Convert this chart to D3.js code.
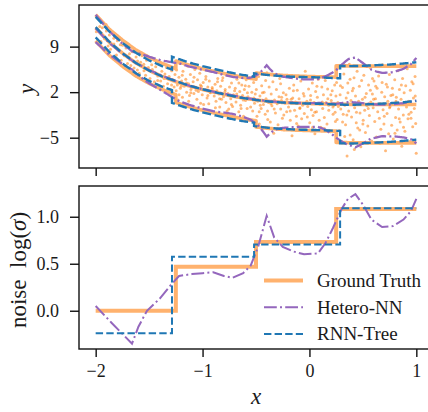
<!DOCTYPE html>
<html><head><meta charset="utf-8">
<script src="https://cdn.jsdelivr.net/npm/d3@7/dist/d3.min.js"></script>
<style>body{margin:0;background:#fff}svg{display:block}</style>
</head><body><svg id="c" width="428" height="412"></svg>
<script>
// ---------------- data ----------------
const meanX = [-2, -1.875, -1.75, -1.625, -1.5, -1.375, -1.25, -1.125, -1, -0.875, -0.75, -0.625, -0.5, -0.375, -0.25, -0.125, 0, 0.125, 0.25, 0.375, 0.5, 0.625, 0.75, 0.875, 1];
const gtMean     = [11.9, 9.7, 8.0, 6.5, 5.35, 4.4, 3.6, 2.95, 2.4, 1.95, 1.5, 1.1, 0.8, 0.58, 0.42, 0.32, 0.25, 0.2, 0.16, 0.13, 0.11, 0.1, 0.1, 0.1, 0.1];
const rnnMean    = [12.0, 9.8, 8.0, 6.5, 5.3, 4.4, 3.7, 3.0, 2.45, 1.95, 1.5, 1.1, 0.8, 0.55, 0.4, 0.3, 0.25, 0.2, 0.1, 0.05, 0.1, 0.2, 0.3, 0.45, 0.65];
const heteroMean = [11.8, 9.6, 7.9, 6.5, 5.4, 4.5, 3.7, 3.0, 2.45, 2.0, 1.6, 1.2, 0.85, 0.6, 0.45, 0.35, 0.3, 0.35, 0.2, 0.5, 0.3, 0.1, 0.1, 0.3, 0.7];

const gtSteps = [-1.25, -0.5, 0.25];
const gtLogSigma = [0, 0.468, 0.731, 1.082];
const rnnSteps = [-1.286, -0.518, 0.287];
const rnnLogSigma = [-0.24, 0.574, 0.706, 1.09];

const heteroX        = [-2.0, -1.85, -1.66, -1.6, -1.52, -1.4, -1.3, -1.22, -1.1, -1.0, -0.9, -0.8, -0.72, -0.62, -0.55, -0.48, -0.4, -0.33, -0.25, -0.15, -0.05, 0.08, 0.15, 0.22, 0.3, 0.36, 0.43, 0.5, 0.58, 0.68, 0.78, 0.88, 0.95, 1.0];
const heteroLogSigma = [0.05, -0.13, -0.35, -0.17, 0.0, 0.13, 0.27, 0.37, 0.39, 0.4, 0.41, 0.37, 0.35, 0.4, 0.48, 0.68, 1.01, 0.78, 0.68, 0.63, 0.6, 0.61, 0.72, 0.88, 1.08, 1.19, 1.24, 1.13, 0.97, 0.89, 0.9, 0.97, 1.06, 1.19];

const scatterPts = [
[-1.994,11.3],[-1.987,13.4],[-1.962,12.1],[-1.951,9.8],[-1.938,11.9],[-1.917,10.2],[-1.903,12.4],[-1.884,9.1],[-1.872,10.8],[-1.861,8.6],[-1.843,11.1],[-1.829,9.4],[-1.806,7.7],[-1.797,9.9],[-1.774,8.3],[-1.762,6.9],[-1.748,9.2],[-1.731,7.6],[-1.716,8.8],[-1.702,6.4],[-1.684,7.9],[-1.671,6.1],[-1.659,8.2],[-1.641,5.7],[-1.622,7.4],[-1.608,6.8],[-1.593,4.9],[-1.579,6.6],[-1.566,7.6],[-1.548,5.3],[-1.533,4.6],[-1.524,6.9],[-1.507,5.8],[-1.492,4.1],[-1.476,6.2],[-1.463,5.0],[-1.451,3.6],[-1.438,5.9],[-1.419,4.5],[-1.404,6.3],[-1.392,3.7],[-1.381,5.2],[-1.366,2.9],[-1.352,4.8],[-1.338,5.8],[-1.327,3.3],[-1.313,4.4],[-1.301,2.4],[-1.289,5.3],[-1.277,3.9],[-1.266,2.8],[-1.258,4.7],
[-1.247,2.2],[-1.243,5.4],[-1.236,3.1],[-1.229,0.8],[-1.221,4.3],[-1.214,6.4],[-1.208,2.6],[-1.196,3.7],[-1.188,1.2],[-1.183,5.2],[-1.171,2.9],[-1.166,0.1],[-1.157,4.0],[-1.149,2.0],[-1.138,6.0],[-1.131,3.3],[-1.122,1.5],[-1.114,4.7],[-1.109,2.4],[-1.097,-0.4],[-1.088,3.6],[-1.081,1.8],[-1.072,5.5],[-1.064,2.7],[-1.053,0.9],[-1.047,3.9],[-1.039,2.1],[-1.026,4.9],[-1.018,0.3],[-1.011,2.9],[-1.003,1.6],[-0.994,3.5],[-0.986,-0.7],[-0.977,2.3],[-0.969,4.4],[-0.958,1.1],[-0.951,2.8],[-0.942,0.2],[-0.937,3.7],[-0.926,1.9],[-0.918,5.3],[-0.909,2.5],[-0.897,-1.1],[-0.891,1.4],[-0.883,3.2],[-0.874,0.6],[-0.866,2.2],[-0.858,4.1],[-0.847,1.7],[-0.839,-0.3],[-0.831,2.9],[-0.822,0.9],[-0.816,3.8],[-0.804,1.3],[-0.797,-1.5],[-0.788,2.4],[-0.781,0.4],[-0.772,4.6],[-0.763,1.8],[-0.755,-0.6],[-0.748,2.8],[-0.736,1.0],[-0.729,3.4],[-0.719,-0.2],[-0.711,1.6],[-0.703,-2.1],[-0.694,2.6],[-0.687,0.5],[-0.678,4.0],[-0.669,1.2],[-0.661,-1.0],[-0.652,2.1],[-0.644,0.0],[-0.633,3.1],[-0.626,1.5],[-0.617,-1.7],[-0.609,2.4],[-0.598,0.7],[-0.592,3.9],[-0.583,-0.5],[-0.575,1.3],[-0.566,2.9],[-0.558,-2.3],[-0.547,0.9],[-0.539,2.0],[-0.531,-0.9],[-0.522,3.5],[-0.514,0.3],[-0.507,1.7],[-0.502,-2.5],
[-0.497,2.4],[-0.491,-1.7],[-0.484,0.6],[-0.476,4.4],[-0.469,-2.9],[-0.463,1.4],[-0.452,-0.5],[-0.447,3.0],[-0.438,-3.6],[-0.431,0.1],[-0.424,2.0],[-0.414,-1.4],[-0.406,1.0],[-0.398,5.0],[-0.392,-0.9],[-0.383,0.4],[-0.377,2.8],[-0.366,-2.6],[-0.358,1.7],[-0.351,-0.1],[-0.342,3.6],[-0.334,-4.3],[-0.327,0.8],[-0.318,-1.2],[-0.309,2.4],[-0.302,0.2],[-0.294,-3.0],[-0.285,1.3],[-0.278,4.1],[-0.269,-0.6],[-0.262,0.7],[-0.253,-2.0],[-0.244,1.9],[-0.237,-3.8],[-0.228,0.3],[-0.219,1.6],[-0.213,-1.0],[-0.204,4.6],[-0.196,-0.3],[-0.188,2.6],[-0.179,-2.3],[-0.171,0.9],[-0.163,-4.7],[-0.156,1.1],[-0.147,3.1],[-0.139,-0.8],[-0.131,0.5],[-0.122,-1.7],[-0.114,2.3],[-0.106,-3.2],[-0.097,1.0],[-0.089,-0.4],[-0.081,3.7],[-0.073,-2.1],[-0.064,0.0],[-0.057,1.8],[-0.048,-1.3],[-0.039,5.2],[-0.032,-3.9],[-0.024,0.6],[-0.016,-0.2],[-0.008,2.5],[0.003,-2.7],[0.011,1.5],[0.018,-0.7],[0.027,3.4],[0.034,-1.6],[0.043,0.4],[0.051,-4.4],[0.058,2.1],[0.066,-1.0],[0.074,1.2],[0.083,4.0],[0.091,-2.3],[0.098,0.1],[0.107,-3.4],[0.116,2.8],[0.124,-0.5],[0.131,1.6],[0.139,-1.9],[0.148,3.8],[0.156,0.4],[0.164,-2.9],[0.172,1.0],[0.181,-0.8],[0.188,4.3],[0.196,-4.1],[0.204,0.7],[0.213,2.2],[0.221,-1.4],[0.229,0.0],[0.236,3.1],[0.243,-2.5],[0.248,1.4],
[0.254,3.5],[0.259,-2.2],[0.266,0.4],[0.272,5.7],[0.279,-3.9],[0.287,1.6],[0.293,-0.6],[0.301,-5.6],[0.309,2.7],[0.316,-1.4],[0.322,4.8],[0.331,0.0],[0.338,-3.0],[0.344,1.1],[0.352,-7.8],[0.359,3.4],[0.367,-0.9],[0.373,6.3],[0.381,-4.6],[0.388,0.7],[0.394,-1.8],[0.402,2.2],[0.409,-5.3],[0.417,4.2],[0.423,-0.4],[0.431,1.4],[0.438,-2.7],[0.446,5.2],[0.452,-3.5],[0.459,0.2],[0.467,2.9],[0.473,-1.2],[0.481,-6.4],[0.488,3.8],[0.496,0.9],[0.503,-2.3],[0.509,4.6],[0.517,-0.8],[0.524,-4.2],[0.532,1.8],[0.538,-0.1],[0.546,-3.2],[0.553,3.1],[0.561,-1.6],[0.567,5.8],[0.574,0.5],[0.582,-5.5],[0.589,1.7],[0.596,-0.4],[0.604,3.7],[0.611,-2.5],[0.618,1.0],[0.626,-4.9],[0.633,2.6],[0.639,-1.0],[0.647,4.5],[0.654,-2.0],[0.661,0.2],[0.668,-3.7],[0.676,2.0],[0.683,6.2],[0.689,-0.7],[0.697,-2.9],[0.704,1.3],[0.712,-7.0],[0.719,3.2],[0.726,-1.3],[0.733,0.6],[0.741,-4.4],[0.748,4.7],[0.754,-0.2],[0.762,1.5],[0.769,-3.1],[0.776,2.6],[0.784,-5.2],[0.791,0.3],[0.798,3.9],[0.806,-1.9],[0.813,1.2],[0.821,-3.8],[0.828,5.3],[0.834,-0.6],[0.842,2.4],[0.849,-2.6],[0.857,0.9],[0.864,-6.3],[0.871,4.1],[0.878,-1.5],[0.886,1.9],[0.893,-4.0],[0.901,3.0],[0.908,-0.3],[0.915,5.6],[0.922,-2.1],[0.929,0.6],[0.937,-5.6],[0.944,2.3],[0.951,-1.1],[0.958,3.6],[0.966,-3.3],[0.973,1.1],[0.981,-0.5],[0.988,4.4],[0.994,-2.8],[0.999,-7.4]
];
const extraPts = [
[-1.02,3.1],[-0.73,0.1],[-1.19,4.6],[-0.58,1.9],[-0.91,2.7],[-1.13,0.6],[-0.66,3.4],[-0.84,1.0],[-1.06,2.3],[-0.55,-0.3],[-0.97,4.0],[-0.79,2.1],[-1.22,1.6],[-0.62,0.8],[-0.88,-0.4],[-1.15,3.4],[-0.70,2.2],[-0.95,1.5],[-0.60,3.0],[-1.08,4.3],[-0.77,-0.9],[-0.86,3.6],[-1.20,2.9],[-0.52,1.1],[-0.99,0.1],[-0.68,1.7],[-1.11,1.9],[-0.81,4.2],[-0.64,-0.5],[-0.93,2.0],
[-0.21,0.9],[0.05,-1.1],[-0.44,1.9],[0.17,2.5],[-0.33,-0.6],[0.09,0.3],[-0.12,-2.8],[-0.47,-1.0],[0.22,-0.3],[-0.27,3.3],[0.14,-3.6],[-0.05,1.4],[-0.39,-2.2],[0.01,0.8],[-0.18,-0.9],[0.20,1.6],[-0.30,0.5],[-0.02,-1.8],[-0.41,3.8],[0.12,0.5],[-0.24,-1.5],[0.07,2.9],[-0.36,0.2],[-0.09,-0.5],[0.24,-1.1],[-0.15,2.2],[-0.46,0.0],[0.03,-3.4],[-0.26,1.2],[0.18,0.0],
[0.62,2.9],[0.35,-1.5],[0.91,0.2],[0.47,-3.8],[0.78,1.6],[0.29,3.0],[0.55,-0.5],[0.84,-2.1],[0.41,2.6],[0.70,-1.7],[0.97,3.3],[0.33,-4.8],[0.59,4.1],[0.88,-3.4],[0.44,-1.1],[0.73,2.8],[0.27,-0.2],[0.52,1.2],[0.95,-2.0],[0.66,-5.9],[0.38,4.0],[0.81,0.6],[0.50,-2.9],[0.99,1.4],[0.31,-2.6],[0.60,0.9],[0.86,3.1],[0.42,-6.8],[0.75,-0.4],[0.57,2.3],[0.93,-1.4],[0.46,0.6],[0.68,3.5],[0.36,1.9],[0.80,-4.3],
[-1.83,10.3],[-1.61,5.4],[-1.47,5.5],[-1.90,11.4],[-1.68,7.0],[-1.36,4.1],[-1.55,6.3],[-1.77,9.3],[-1.42,3.8],[-1.29,3.1]
];

const xTicks = [-2, -1, 0, 1];
const yTopTicks = [9, 2, -5];
const yBotTicks = [0.0, 0.5, 1.0];
const legendLabels = ["Ground Truth", "Hetero-NN", "RNN-Tree"];

// ---------------- layout ----------------
const C_GT = "#ffb26e", C_HET = "#9467bd", C_RNN = "#1f77b4";
const FONT = "'Liberation Serif', 'Times New Roman', serif";
const svg = d3.select("#c");
const L = 79, R = 433;
const topP = {t: 5, b: 168}, botP = {t: 186, b: 349};

const x = d3.scaleLinear().domain([-2.156, 1.156]).range([L, R]);
const yT = d3.scaleLinear().domain([-9.66, 15.4]).range([topP.b, topP.t]);
const yB = d3.scaleLinear().domain([-0.407, 1.327]).range([botP.b, botP.t]);

// ---------------- helpers ----------------
const grid = d3.range(-2, 1.00001, 0.01);
function stepBand(meanArr, steps, levels, k) {
  const m = d3.scaleLinear().domain(meanX).range(meanArr);
  const bounds = [-2, ...steps, 1];
  const pts = [];
  for (let i = 0; i < levels.length; i++) {
    const a = bounds[i], b = bounds[i + 1];
    const s = Math.exp(levels[i]);
    const xs = [a, ...grid.filter(v => v > a && v < b), b];
    xs.forEach(v => pts.push([v, m(v) + k * 2 * s]));
  }
  return pts;
}
function smoothBand(meanArr, k) {
  const m = d3.scaleLinear().domain(meanX).range(meanArr);
  const s = d3.scaleLinear().domain(heteroX).range(heteroLogSigma);
  return grid.map(v => [v, m(v) + k * 2 * Math.exp(s(v))]);
}
function meanLine(meanArr) {
  const m = d3.scaleLinear().domain(meanX).range(meanArr);
  return grid.map(v => [v, m(v)]);
}
const lineT = d3.line().x(d => x(d[0])).y(d => yT(d[1]));
const lineB = d3.line().x(d => x(d[0])).y(d => yB(d[1]));

// ---------------- top panel ----------------
const gT = svg.append("g");
gT.append("g").selectAll("circle").data(scatterPts.concat(extraPts)).join("circle")
  .attr("cx", d => x(d[0])).attr("cy", d => yT(d[1])).attr("r", 1.5)
  .attr("fill", "#ff7f0e").attr("fill-opacity", 0.55);

[-1, 0, 1].forEach(k => {
  const pts = k === 0 ? meanLine(gtMean) : stepBand(gtMean, gtSteps, gtLogSigma, k);
  gT.append("path").attr("d", lineT(pts)).attr("fill", "none")
    .attr("stroke", C_GT).attr("stroke-width", 3.6).attr("stroke-linejoin", "round");
});
[-1, 0, 1].forEach(k => {
  const pts = k === 0 ? meanLine(heteroMean) : smoothBand(heteroMean, k);
  gT.append("path").attr("d", lineT(pts)).attr("fill", "none")
    .attr("stroke", C_HET).attr("stroke-width", 2.3)
    .attr("stroke-dasharray", "12.8,3.2,2,3.2");
});
[-1, 0, 1].forEach(k => {
  const pts = k === 0 ? meanLine(rnnMean) : stepBand(rnnMean, rnnSteps, rnnLogSigma, k);
  gT.append("path").attr("d", lineT(pts)).attr("fill", "none")
    .attr("stroke", C_RNN).attr("stroke-width", 2.4)
    .attr("stroke-dasharray", "9,3.6");
});

// ---------------- bottom panel ----------------
const gB = svg.append("g");
const stepPts = (steps, levels) => {
  const p = [[-2, levels[0]]];
  steps.forEach((s, i) => p.push([s, levels[i + 1]]));
  p.push([1, levels[levels.length - 1]]);
  return p;
};
const stepLine = d3.line().x(d => x(d[0])).y(d => yB(d[1])).curve(d3.curveStepAfter);
gB.append("path").attr("d", stepLine(stepPts(gtSteps, gtLogSigma))).attr("fill", "none")
  .attr("stroke", C_GT).attr("stroke-width", 4);
gB.append("path").attr("d", lineB(heteroX.map((v, i) => [v, heteroLogSigma[i]]))).attr("fill", "none")
  .attr("stroke", C_HET).attr("stroke-width", 2).attr("stroke-dasharray", "12.8,3.2,2,3.2");
gB.append("path").attr("d", stepLine(stepPts(rnnSteps, rnnLogSigma))).attr("fill", "none")
  .attr("stroke", C_RNN).attr("stroke-width", 2).attr("stroke-dasharray", "7.4,3.2");

// legend
const lg = svg.append("g");
const legStyles = [
  {c: C_GT, w: 4, d: null},
  {c: C_HET, w: 2, d: "12.8,3.2,2,3.2"},
  {c: C_RNN, w: 2, d: "7.4,3.2"}
];
legendLabels.forEach((t, i) => {
  const yy = 280.5 + i * 26.7;
  const ln = lg.append("line").attr("x1", 264).attr("x2", 303).attr("y1", yy).attr("y2", yy)
    .attr("stroke", legStyles[i].c).attr("stroke-width", legStyles[i].w);
  if (legStyles[i].d) ln.attr("stroke-dasharray", legStyles[i].d);
  lg.append("text").attr("x", 317).attr("y", yy + 6.5).text(t)
    .attr("font-family", FONT).attr("font-size", 19).attr("fill", "#1a1a1a");
});

// ---------------- axes / frames ----------------
function frame(p) {
  svg.append("rect").attr("x", L).attr("y", p.t).attr("width", R - L).attr("height", p.b - p.t)
    .attr("fill", "none").attr("stroke", "#111").attr("stroke-width", 1.4);
}
frame(topP); frame(botP);

function styleAxis(g, fs) {
  g.select(".domain").remove();
  g.selectAll(".tick line").attr("stroke", "#111").attr("stroke-width", 1.4);
  g.selectAll(".tick text").attr("font-family", FONT).attr("font-size", fs).attr("fill", "#1a1a1a");
}
const fmtMinus = v => (v < 0 ? "\u2212" + Math.abs(v) : String(v));

const axTx = svg.append("g").attr("transform", `translate(0,${topP.b})`)
  .call(d3.axisBottom(x).tickValues(xTicks).tickSize(8).tickFormat(""));
styleAxis(axTx, 18);
const axBx = svg.append("g").attr("transform", `translate(0,${botP.b})`)
  .call(d3.axisBottom(x).tickValues(xTicks).tickSize(8).tickPadding(7).tickFormat(fmtMinus));
styleAxis(axBx, 18);
const axTy = svg.append("g").attr("transform", `translate(${L},0)`)
  .call(d3.axisLeft(yT).tickValues(yTopTicks).tickSize(9).tickPadding(11).tickFormat(fmtMinus));
styleAxis(axTy, 18);
const axBy = svg.append("g").attr("transform", `translate(${L},0)`)
  .call(d3.axisLeft(yB).tickValues(yBotTicks).tickSize(9).tickPadding(11).tickFormat(d => d3.format(".1f")(d)));
styleAxis(axBy, 18);

// axis labels
svg.append("text").attr("transform", "translate(34,89) rotate(-90)").attr("text-anchor", "middle")
  .attr("font-family", FONT).attr("font-style", "italic").attr("font-size", 23).attr("fill", "#1a1a1a").text("y");
const yl = svg.append("text").attr("transform", "translate(25.5,270) rotate(-90)").attr("text-anchor", "middle")
  .attr("font-family", FONT).attr("font-size", 23).attr("fill", "#1a1a1a");
yl.append("tspan").text("noise\u2002log(");
yl.append("tspan").attr("font-style", "italic").text("\u03c3");
yl.append("tspan").text(")");
svg.append("text").attr("x", 256).attr("y", 404).attr("text-anchor", "middle")
  .attr("font-family", FONT).attr("font-style", "italic").attr("font-size", 23).attr("fill", "#1a1a1a").text("x");
</script></body></html>
